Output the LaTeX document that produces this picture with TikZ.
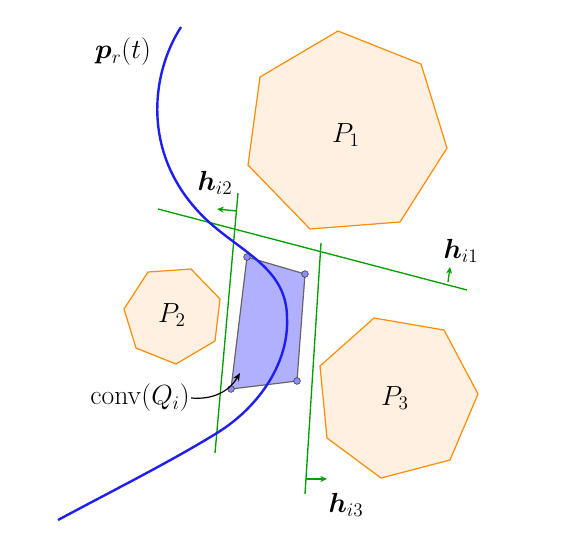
\documentclass[tikz,border=0pt]{standalone}
\usepackage{amsmath,bm}
\usetikzlibrary{arrows.meta}
\definecolor{obsorange}{RGB}{255,140,0}
\definecolor{obsfill}{RGB}{255,240,226}
\definecolor{hgreen}{RGB}{0,160,0}
\definecolor{pathblue}{RGB}{30,30,240}
\definecolor{quadfill}{RGB}{176,176,255}
\begin{document}
\begin{tikzpicture}[x=0.75pt,y=0.75pt,yscale=-1,xscale=1,
  obstacle/.style={draw=obsorange,fill=obsfill,line width=0.9pt},
  halfplane/.style={draw=hgreen,line width=1pt},
  normal/.style={draw=hgreen,line width=1pt,-{Stealth[length=5pt,width=4.5pt]}},
  vertex/.style={circle,draw=black!80,fill=quadfill!80!blue,inner sep=0pt,minimum size=5pt},
  lbl/.style={font=\huge,inner sep=1pt}]
\useasboundingbox (0,0) rectangle (581,537);

%Shape: Polygon P1
\draw [obstacle] (338,31) -- (421,64) -- (447,148) -- (400,222) -- (310,229) -- (248,165) -- (260,77) -- cycle ;
%Shape: Polygon P2
\draw [obstacle] (148,272) -- (191,269) -- (220,299) -- (215,341) -- (176,364) -- (136,348) -- (124,309) -- cycle ;
%Shape: Polygon P3
\draw [obstacle] (374,318) -- (444,330) -- (478,394) -- (450,460) -- (381,478) -- (327,438) -- (320,366) -- cycle ;

%Shape: Quad conv(Q_i)
\draw [draw=black!60,fill=quadfill,line width=0.9pt] (247,257) -- (305,274) -- (297,381) -- (231,389) -- cycle ;

%Straight Lines h_i1, h_i2, h_i3
\draw [halfplane] (158,209) -- (467,290) ;
\draw [halfplane] (238,193) -- (215,453) ;
\draw [halfplane] (321,243) -- (305,494) ;
\coordinate (a1) at (448,282); \coordinate (b1) at (450,267);
\coordinate (a2) at (237,211); \coordinate (b2) at (217,209);
\coordinate (a3) at (306,479); \coordinate (b3) at (327,479);
\draw [normal] (a1) -- (b1) ;
\draw [normal] (a2) -- (b2) ;
\draw [normal] (a3) -- (b3) ;

%Curve p_r(t)
\draw [pathblue,line width=1.8pt] (181,27) .. controls (150,75) and (140,160) .. (210,223) .. controls (245,254) and (287,270) .. (287,318) .. controls (289,360) and (262,405) .. (217,433) .. controls (170,462) and (110,492) .. (58,520) ;

%Vertices
\node [vertex] (q1) at (247,257) {};
\node [vertex] (q2) at (305,274) {};
\node [vertex] (q3) at (297,381) {};
\node [vertex] (q4) at (231,389) {};

% Text Node
\node [lbl] (pr) at (123,52) {$\bm{p}_r(t)$};
\node [lbl] (h2) at (215,183) {$\bm{h}_{i2}$};
\node [lbl] (h1) at (461,251) {$\bm{h}_{i1}$};
\node [lbl] (h3) at (346,505) {$\bm{h}_{i3}$};
\node [lbl] (p1) at (346,135) {$P_1$};
\node [lbl] (p2) at (172,315) {$P_2$};
\node [lbl] (p3) at (395,398) {$P_3$};
\node [lbl] (cq) at (140,398) {$\mathrm{conv}(Q_i)$};
\coordinate (cqtip) at (240,373);
\draw [line width=0.9pt,-{Stealth[length=6pt,width=5pt]}] (cq.east) .. controls (215,400) and (230,390) .. (cqtip) ;

\end{tikzpicture}
\end{document}
